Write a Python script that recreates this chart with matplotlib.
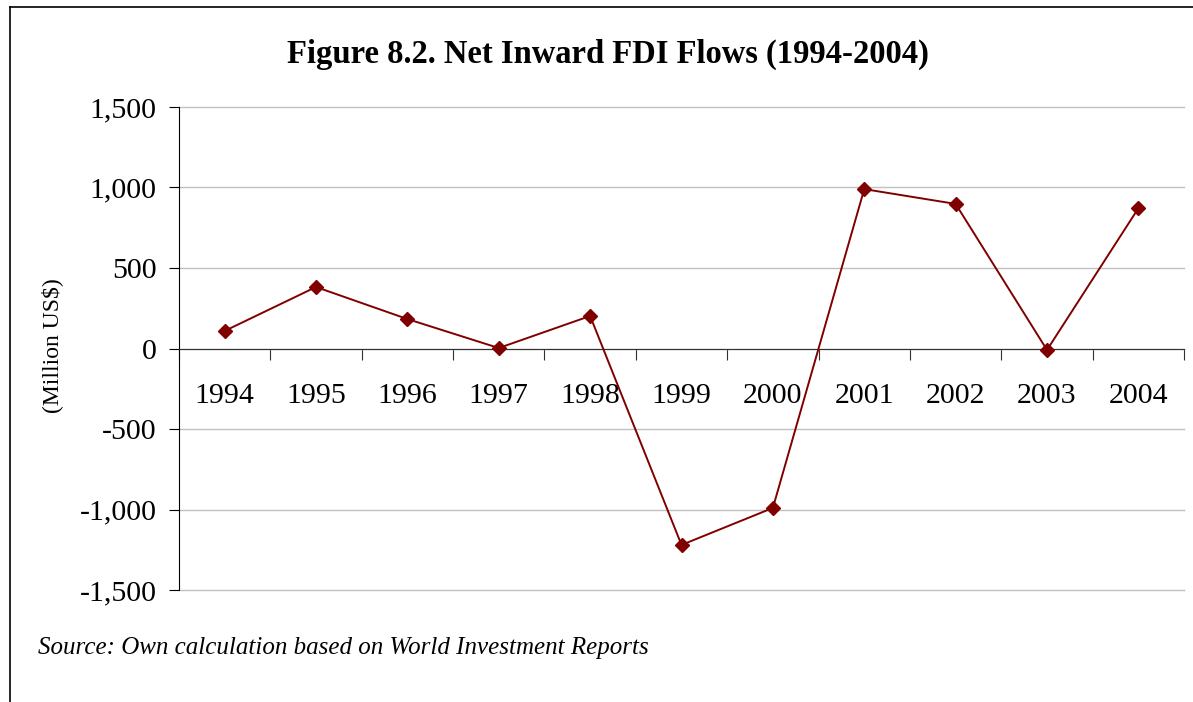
import matplotlib.pyplot as plt
from matplotlib.lines import Line2D
from matplotlib.ticker import FuncFormatter, FixedLocator
import numpy as np

years = ['1994', '1995', '1996', '1997', '1998', '1999',
         '2000', '2001', '2002', '2003', '2004']
fdi_flows = [109, 382, 183, 3, 202, -1220, -990, 990, 898, -9, 871]

plt.rcParams['font.family'] = ['Liberation Serif', 'DejaVu Serif']


def main():
    fig = plt.figure(figsize=(11.93, 7.02), dpi=100)
    ax = fig.add_axes([0.150, 0.1595, 0.8425, 0.6881])

    x = np.arange(len(years))
    ax.plot(x, fdi_flows, color='#800000', lw=1.4, marker='D',
            markersize=7, zorder=3)

    ax.set_xlim(-0.5, len(years) - 0.5)
    ax.set_ylim(-1500, 1500)
    ax.set_yticks(np.arange(-1500, 1501, 500))
    ax.yaxis.set_major_formatter(FuncFormatter(lambda v, p: f'{v:,.0f}'))
    ax.grid(axis='y', color='#c0c0c0', lw=1)
    for gl in ax.get_ygridlines():
        gl.set_clip_on(False)
    ax.set_axisbelow(True)

    # category axis crossing at zero, tick marks between categories
    ax.spines['top'].set_visible(False)
    ax.spines['right'].set_visible(False)
    ax.spines['bottom'].set_position(('data', 0))
    ax.spines['bottom'].set_color('#303030')
    ax.xaxis.set_major_locator(FixedLocator(np.arange(-0.5, len(years), 1.0)))
    ax.xaxis.set_minor_locator(FixedLocator(x))
    ax.tick_params(axis='x', which='major', length=8, direction='out',
                   labelbottom=False, color='#303030')
    ax.set_xticks(x, years, minor=True)
    ax.tick_params(axis='x', which='minor', length=0, pad=25, labelsize=21.5)
    ax.tick_params(axis='y', length=7, direction='out', labelsize=21.5, pad=9)

    fig.text(0.510, 0.923, 'Figure 8.2. Net Inward FDI Flows (1994-2004)',
             ha='center', va='center', fontsize=23.5, fontweight='bold')
    fig.text(0.044, 0.508, '(Million US$)', rotation=90, ha='center',
             va='center', fontsize=17)
    fig.text(0.032, 0.077, 'Source: Own calculation based on World Investment Reports',
             ha='left', va='center', fontsize=18, style='italic')

    # outer frame (left and top edges visible)
    fig.add_artist(Line2D([10 / 1193, 10 / 1193], [0, 1 - 7 / 702],
                          transform=fig.transFigure, color='black', lw=1.2))
    fig.add_artist(Line2D([10 / 1193, 1], [1 - 7 / 702, 1 - 7 / 702],
                          transform=fig.transFigure, color='black', lw=1.2))

    fig.savefig('out.png', dpi=100)


if __name__ == '__main__':
    main()
